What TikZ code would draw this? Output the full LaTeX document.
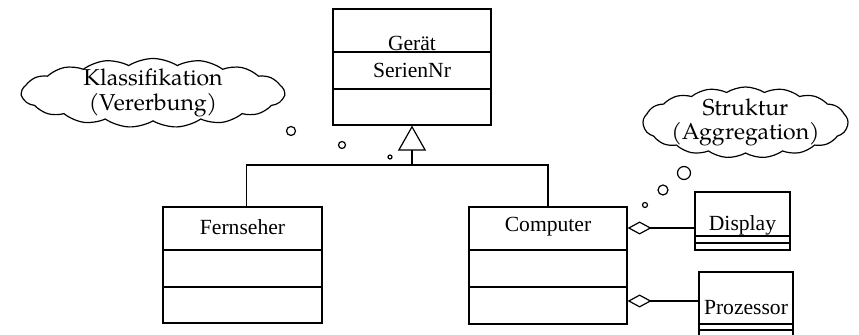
\documentclass[tikz,border=0pt]{standalone}
\usepackage{fontspec}
\setmainfont{Liberation Serif}
\newfontfamily\cloudfont{TeX Gyre Pagella}
\usetikzlibrary{shapes.symbols,arrows.meta}

\tikzset{
    classbox/.style={draw, inner sep=0pt},
    classname/.style={inner sep=0pt, font=\fontsize{10.8}{12}\selectfont},
    thought/.style={cloud, draw, cloud puffs=17, cloud puff arc=65, cloud ignores aspect,
        inner sep=0pt},
    thoughttext/.style={inner sep=0pt, align=center, font=\cloudfont\fontsize{11.5}{12.3}\selectfont},
    bubble/.style={circle, draw, inner sep=0pt},
    aggr/.style={-{Diamond[open, length=12pt, width=6.5pt]}},
    inherit/.style={-{Triangle[open, length=12.5pt, width=14pt]}},
}

\begin{document}
\begin{tikzpicture}[x=0.5pt, y=-0.5pt, line width=0.6pt]
    \useasboundingbox (0,0) rectangle (859,335);

    % classes
    \node[classbox, minimum width=79pt, minimum height=58pt] (geraet) at (412,67) {};
    \node[classbox, minimum width=79.5pt, minimum height=58pt] (fernseher) at (242.5,265) {};
    \node[classbox, minimum width=79pt, minimum height=58.5pt] (computer) at (548,265.5) {};
    \node[classbox, minimum width=47.5pt, minimum height=29pt] (display) at (742.5,221) {};
    \node[classbox, minimum width=47pt, minimum height=33pt] (prozessor) at (746,305) {};

    \foreach \y in {52,89}
        \draw (geraet.west |- 0,\y) -- (geraet.east |- 0,\y);
    \foreach \y in {250,287} {
        \draw (fernseher.west |- 0,\y) -- (fernseher.east |- 0,\y);
        \draw (computer.west |- 0,\y) -- (computer.east |- 0,\y);
    }
    \foreach \y in {236,243}
        \draw (display.west |- 0,\y) -- (display.east |- 0,\y);
    \foreach \y in {324,330}
        \draw (prozessor.west |- 0,\y) -- (prozessor.east |- 0,\y);

    \node[classname] (geraetname) at (412,43) {Gerät};
    \node[classname] (serien) at (412,70) {SerienNr};
    \node[classname] (fernsehername) at (242.5,227) {Fernseher};
    \node[classname] (computername) at (548,227) {Computer};
    \node[classname] (displayname) at (742.5,225) {Display};
    \node[classname] (prozessorname) at (746,308) {Prozessor};

    % inheritance
    \coordinate (fork) at (geraet.south |- 0,165);
    \draw ([xshift=2pt]fernseher.north) |- (fork) -| (computer.north);
    \draw[inherit] (fork) -- (geraet.south);

    % aggregation
    \coordinate (dsp) at ([yshift=-3.5pt]display.west);
    \coordinate (prz) at ([yshift=2pt]prozessor.west);
    \draw[aggr] (dsp) -- (computer.east |- dsp);
    \draw[aggr] (prz) -- (computer.east |- prz);

    % thought clouds
    \node[thought, minimum width=131.5pt, minimum height=34.5pt] (vererbung) at (153,93) {};
    \node[thoughttext] (vererbungtext) at (vererbung) {Klassifikation\\(Vererbung)};
    \node[thought, minimum width=102.5pt, minimum height=35.5pt] (aggregation) at (745.5,122.5) {};
    \node[thoughttext] (aggregationtext) at (aggregation) {Struktur\\(Aggregation)};

    \foreach \x/\y/\d [count=\i] in {291/131/4.5pt, 342/145/3.5pt, 390/157/2pt}
        \node[bubble, minimum size=\d] (lb\i) at (\x,\y) {};
    \foreach \x/\y/\d [count=\i] in {684/173/6.5pt, 663/190/5pt, 645/205/2.5pt}
        \node[bubble, minimum size=\d] (rb\i) at (\x,\y) {};
\end{tikzpicture}
\end{document}
